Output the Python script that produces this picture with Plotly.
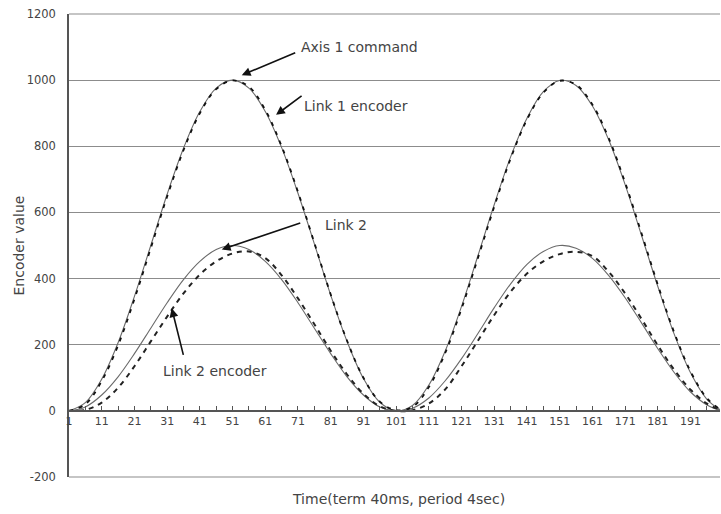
import plotly.graph_objects as go

# sample index (category axis 1..200), read every 5 samples
t = [1, 6, 11, 16, 21, 26, 31, 36, 41, 46, 51, 56, 61, 66, 71, 76, 81, 86, 91, 96,
     101, 106, 111, 116, 121, 126, 131, 136, 141, 146, 151, 156, 161, 166, 171, 176,
     181, 186, 191, 196, 200]

axis1_command = [0, 25, 96, 206, 346, 500, 655, 794, 905, 976, 1000, 976, 905, 796, 658, 505, 350, 210, 98, 26,
                 0, 16, 78, 181, 316, 469, 624, 768, 885, 965, 999, 984, 922, 819, 684, 531, 376, 232, 115, 35, 4]
link1_encoder = [0, 20, 90, 198, 338, 492, 648, 788, 900, 973, 999, 980, 910, 800, 662, 508, 352, 212, 100, 28,
                 2, 12, 72, 175, 309, 462, 618, 763, 881, 962, 998, 986, 926, 824, 690, 537, 381, 237, 119, 38, 5]
link2 = [0, 12, 48, 103, 173, 250, 327, 397, 452, 488, 500, 488, 452, 397, 327, 250, 173, 103, 48, 12,
         0, 8, 39, 91, 158, 234, 312, 384, 443, 482, 500, 492, 461, 409, 342, 266, 188, 116, 57, 18, 2]
link2_encoder = [0, 3, 25, 70, 135, 210, 285, 355, 412, 452, 476, 482, 462, 410, 340, 262, 182, 110, 52, 14,
                 0, 2, 22, 65, 135, 212, 290, 360, 415, 452, 474, 481, 468, 420, 355, 278, 198, 124, 64, 22, 3]

x_tick_vals = list(range(1, 200, 10))
x_tick_text = [str(v) for v in x_tick_vals]
y_tick_vals = [-200, 0, 200, 400, 600, 800, 1000, 1200]
y_tick_text = ["-200", "0", "200", "400", "600", "800", "1000", "1200"]

FONT = "DejaVu Sans"
TXT = "#444444"
GRID = "#8c8c8c"

fig = go.Figure()
solid = dict(color="#6a6a6a", width=1.1, shape="spline", smoothing=1.0)
dashed1 = dict(color="#111111", width=1.8, dash="4px,6px", shape="spline", smoothing=1.0)
dashed2 = dict(color="#222222", width=2, dash="5px,5px", shape="spline", smoothing=1.0)

fig.add_trace(go.Scatter(x=t, y=axis1_command, mode="lines", line=solid, name="Axis 1 command"))
fig.add_trace(go.Scatter(x=t, y=link2, mode="lines", line=solid, name="Link 2"))
fig.add_trace(go.Scatter(x=t, y=link1_encoder, mode="lines", line=dashed1, name="Link 1 encoder"))
fig.add_trace(go.Scatter(x=t, y=link2_encoder, mode="lines", line=dashed2, name="Link 2 encoder"))

fig.update_layout(
    width=721, height=514,
    margin=dict(l=69, r=1, t=14, b=37),
    paper_bgcolor="white", plot_bgcolor="white",
    showlegend=False,
    font=dict(family=FONT, color=TXT),
    xaxis=dict(
        range=[1, 200], anchor="free", position=200 / 1400,
        showgrid=False, zeroline=False,
        showline=True, linecolor="#555555", linewidth=1.5,
        tickmode="array", tickvals=x_tick_vals, ticktext=x_tick_text,
        ticks="inside", ticklen=4, tickcolor="#555555", tickwidth=1,
        minor=dict(dtick=5, tick0=1, ticks="inside", ticklen=4, tickcolor="#555555", tickwidth=1),
        tickfont=dict(family=FONT, size=11, color=TXT),
    ),
    yaxis=dict(
        range=[-200, 1200], domain=[0, 1],
        tickmode="array", tickvals=y_tick_vals, ticktext=y_tick_text,
        showgrid=True, gridcolor=GRID, gridwidth=1,
        zeroline=False,
        showline=True, linecolor="#555555", linewidth=1.5,
        ticks="", ticklabelstandoff=9,
        tickfont=dict(family=FONT, size=11.5, color=TXT),
    ),
)

# gridlines at the range ends (top and bottom of the plot area)
for yp in (0, 1):
    fig.add_shape(type="line", xref="paper", yref="paper", x0=0, x1=1, y0=yp, y1=yp,
                  line=dict(color=GRID, width=1.2), layer="below")

# axis titles
fig.add_annotation(text="Encoder value", xref="paper", yref="paper", x=(18 - 69) / 651, y=0.5,
                   textangle=-90, showarrow=False, font=dict(size=14, color=TXT, family=FONT),
                   xanchor="center", yanchor="middle")
fig.add_annotation(text="Time(term 40ms, period 4sec)", xref="paper", yref="paper",
                   x=(398 - 69) / 651, y=-(499 - 477) / 463, showarrow=False,
                   font=dict(size=14, color=TXT, family=FONT), xanchor="center", yanchor="middle")

# labels
labels = [("Axis 1 command", 71.3, 1101), ("Link 1 encoder", 72.2, 923),
          ("Link 2", 78.6, 562), ("Link 2 encoder", 29.1, 120)]
for txt, lx, ly in labels:
    fig.add_annotation(text=txt, x=lx, y=ly, xref="x", yref="y", showarrow=False,
                       xanchor="left", yanchor="middle", font=dict(size=14, color=TXT, family=FONT))

# arrows (head in data coords, tail as pixel offset)
arrows = [(53.8, 1015, 55, -23), (64.3, 895, 27, -20), (47.7, 488, 80, -27), (32.4, 310, 12, 48)]
for hx, hy, ax, ay in arrows:
    fig.add_annotation(text="", x=hx, y=hy, xref="x", yref="y", ax=ax, ay=ay,
                       showarrow=True, arrowhead=2, arrowsize=1.1, arrowwidth=1.6, arrowcolor="#111111")

fig.write_html("out.html")
